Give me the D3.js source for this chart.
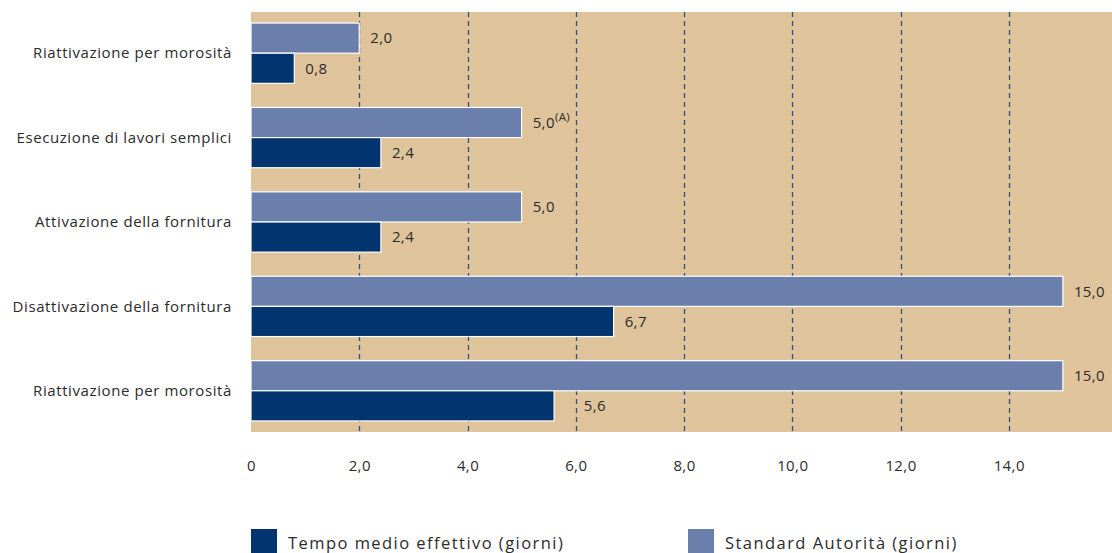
<!DOCTYPE html>
<html>
<head>
<meta charset="utf-8">
<script src="https://cdn.jsdelivr.net/npm/d3@7/dist/d3.min.js"></script>
<style>
  html, body { margin: 0; padding: 0; background: #fff; }
  svg { display: block; }
  text { font-family: "Open Sans", "Noto Sans", sans-serif; fill: #2b2b2b; }
</style>
</head>
<body>
<svg id="chart" width="1112" height="553"></svg>
<script>
// Services, top to bottom
const categories = [
  "Riattivazione per morosità",
  "Esecuzione di lavori semplici",
  "Attivazione della fornitura",
  "Disattivazione della fornitura",
  "Riattivazione per morosità"
];
// Standard set by the Authority (days)
const standardValues = [2.0, 5.0, 5.0, 15.0, 15.0];
// Actual average time (days)
const actualValues = [0.8, 2.4, 2.4, 6.7, 5.6];
// Footnote marks attached to the standard labels
const standardNotes = ["", "(A)", "", "", ""];
const tickValues = [0, 2, 4, 6, 8, 10, 12, 14];
const seriesNames = ["Tempo medio effettivo (giorni)", "Standard Autorità (giorni)"];

const colors = { bg: "#dfc49b", standard: "#6b7fad", actual: "#02346f", grid: "#2c4f80" };

const svg = d3.select("#chart");
const plot = { left: 251, right: 1117, top: 12, bottom: 432 };

const x = d3.scaleLinear().domain([0, 16]).range([plot.left, plot.right]);
const y = d3.scaleBand()
  .domain(d3.range(categories.length))
  .range([plot.top, plot.bottom])
  .paddingInner(0.2857)
  .paddingOuter(0.131);
const bw = y.bandwidth() / 2;

const fmt = v => v === 0 ? "0" : d3.format(".1f")(v).replace(".", ",");
const gridValues = tickValues.filter(d => d > 0);

// Put a value label past the bar end, stepping over a gridline it would sit on
function labelX(v) {
  let lx = x(v) + 11;
  gridValues.forEach(g => {
    const gx = x(g);
    if (gx > lx - 3 && gx < lx + 24) lx = gx + 8;
  });
  return lx;
}

// Plot background
svg.append("rect")
  .attr("x", plot.left).attr("y", plot.top)
  .attr("width", plot.right - plot.left).attr("height", plot.bottom - plot.top)
  .attr("fill", colors.bg);

// Dashed vertical gridlines
svg.append("g").selectAll("line")
  .data(gridValues)
  .join("line")
  .attr("x1", d => Math.round(x(d)) + 0.5).attr("x2", d => Math.round(x(d)) + 0.5)
  .attr("y1", plot.top).attr("y2", plot.bottom)
  .attr("stroke", colors.grid).attr("stroke-width", 1.3)
  .attr("stroke-dasharray", "5,4");

// Bars
const groups = svg.append("g").selectAll("g")
  .data(categories.map((c, i) => ({ c, i })))
  .join("g");

groups.append("rect")
  .attr("x", x(0))
  .attr("y", d => y(d.i))
  .attr("width", d => x(standardValues[d.i]) - x(0))
  .attr("height", bw)
  .attr("fill", colors.standard)
  .attr("stroke", "#fff").attr("stroke-width", 1.2);

groups.append("rect")
  .attr("x", x(0))
  .attr("y", d => y(d.i) + bw)
  .attr("width", d => x(actualValues[d.i]) - x(0))
  .attr("height", bw)
  .attr("fill", colors.actual)
  .attr("stroke", "#fff").attr("stroke-width", 1.2);

// Value labels
const stdLbl = groups.append("text")
  .attr("x", d => labelX(standardValues[d.i]))
  .attr("y", d => y(d.i) + bw / 2)
  .attr("dy", "0.35em")
  .attr("font-size", 15)
  .style("letter-spacing", "0.4px");
stdLbl.append("tspan").text(d => fmt(standardValues[d.i]));
stdLbl.append("tspan")
  .attr("font-size", 11.5).attr("dy", "-0.55em")
  .text(d => standardNotes[d.i]);

groups.append("text")
  .attr("x", d => labelX(actualValues[d.i]))
  .attr("y", d => y(d.i) + bw * 1.5)
  .attr("dy", "0.35em")
  .attr("font-size", 15)
  .style("letter-spacing", "0.4px")
  .text(d => fmt(actualValues[d.i]));

// Category labels
groups.append("text")
  .attr("x", 232)
  .attr("y", d => y(d.i) + bw)
  .attr("dy", "0.35em")
  .attr("text-anchor", "end")
  .attr("font-size", 15)
  .style("letter-spacing", "0.6px")
  .text(d => d.c);

// X axis labels
const axis = d3.axisBottom(x).tickValues(tickValues).tickFormat(fmt).tickSize(0).tickPadding(0);
const ax = svg.append("g").attr("transform", `translate(0,${plot.bottom + 34})`).call(axis);
ax.select(".domain").remove();
ax.selectAll("text")
  .attr("font-size", 15)
  .attr("dy", "0.35em")
  .attr("y", 0)
  .style("font-family", '"Open Sans", "Noto Sans", sans-serif')
  .style("letter-spacing", "0.4px")
  .attr("fill", "#2b2b2b");

// Legend
const legend = [
  { name: seriesNames[0], color: colors.actual, x: 251 },
  { name: seriesNames[1], color: colors.standard, x: 688 }
];
const lg = svg.append("g").selectAll("g").data(legend).join("g")
  .attr("transform", d => `translate(${d.x},529)`);
lg.append("rect").attr("width", 26).attr("height", 26).attr("fill", d => d.color);
lg.append("text")
  .attr("x", 37).attr("y", 20)
  .attr("font-size", 16.5)
  .style("letter-spacing", "1.45px")
  .text(d => d.name);
</script>
</body>
</html>
